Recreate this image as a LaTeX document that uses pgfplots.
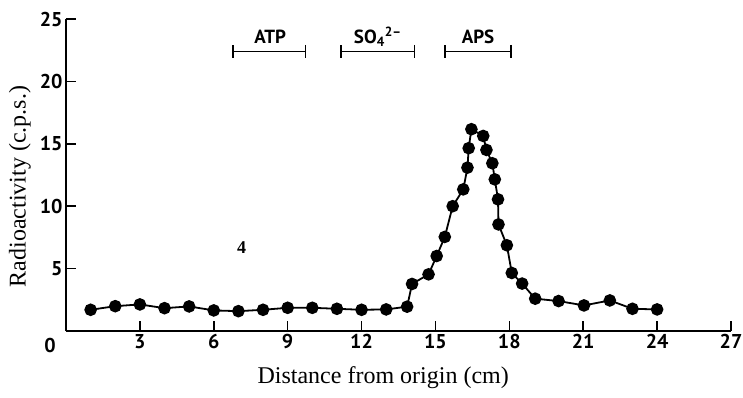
\documentclass[border=0pt]{standalone}
\usepackage{fontspec}
\setmainfont{Liberation Serif}
\setsansfont{PT Sans}
\usepackage{pgfplots}
\pgfplotsset{compat=1.18}
\usetikzlibrary{arrows.meta}
\begin{document}
\begin{tikzpicture}
\useasboundingbox (-66pt,-66pt) rectangle (677pt,331pt);
\begin{axis}[
  scale only axis, width=665pt, height=312pt,
  xmin=0, xmax=27, ymin=0, ymax=25,
  axis x line*=bottom, axis y line*=left,
  axis line style={line width=1.6pt,-},
  xtick={3,6,...,27}, ytick={5,10,...,25},
  tick align=inside, major tick length=10pt,
  tick style={line width=1.6pt, black},
  ticklabel style={font=\fontsize{20}{22}\selectfont\sffamily\bfseries},
  /pgf/number format/assume math mode=true,
  xlabel={Distance from origin (cm)}, ylabel={Radioactivity (c.p.s.)},
  every axis x label/.style={at={([yshift=-47pt]axis description cs:0.477,0)},anchor=center,font=\fontsize{24}{26}\selectfont},
  every axis y label/.style={at={([xshift=-46pt]axis description cs:0,0.463)},rotate=90,anchor=center,font=\fontsize{24}{26}\selectfont},
  clip=false,
]
\addplot[black, line width=1.8pt, mark=*, mark size=5.4pt, mark options={fill=black}] coordinates {
(1.0,1.70) (2.0,1.99) (3.0,2.13) (4.0,1.83) (5.0,1.97) (6.0,1.65) (7.0,1.59)
(8.0,1.70) (9.0,1.86) (10.0,1.86) (11.0,1.78) (12.0,1.70) (13.0,1.73)
(13.85,1.95) (14.05,3.77) (14.72,4.54) (15.05,6.01) (15.38,7.54) (15.7,10.0)
(16.13,11.35) (16.3,13.09) (16.35,14.65) (16.46,16.17) (16.94,15.63)
(17.07,14.51) (17.31,13.44) (17.41,12.15) (17.54,10.55) (17.56,8.54)
(17.9,6.87) (18.1,4.65) (18.52,3.8) (19.05,2.59) (20.0,2.4) (21.03,2.05)
(22.08,2.45) (23.0,1.78) (24.0,1.73)
};
\node[font=\fontsize{20}{22}\selectfont\sffamily\bfseries] at ([shift={(-16pt,-14pt)}]axis cs:0,0) {0};
\draw[line width=1.6pt, {Bar[width=13pt]}-{Bar[width=13pt]}] (axis cs:6.74,22.4) -- (axis cs:9.75,22.4);
\draw[line width=1.6pt, {Bar[width=13pt]}-{Bar[width=13pt]}] (axis cs:11.14,22.4) -- (axis cs:14.18,22.4);
\draw[line width=1.6pt, {Bar[width=13pt]}-{Bar[width=13pt]}] (axis cs:15.36,22.4) -- (axis cs:18.1,22.4);
\node[font=\fontsize{19}{21}\selectfont\sffamily\bfseries] at (axis cs:8.29,23.57) {ATP};
\node[font=\fontsize{19}{21}\selectfont\sffamily\bfseries] at (axis cs:12.66,23.57) {SO\textsubscript{4}\textsuperscript{2–}};
\node[font=\fontsize{19}{21}\selectfont\sffamily\bfseries] at (axis cs:16.73,23.57) {APS};
\node[font=\fontsize{18}{20}\selectfont\bfseries] at (axis cs:7.13,6.7) {4};
\end{axis}
\end{tikzpicture}
\end{document}
